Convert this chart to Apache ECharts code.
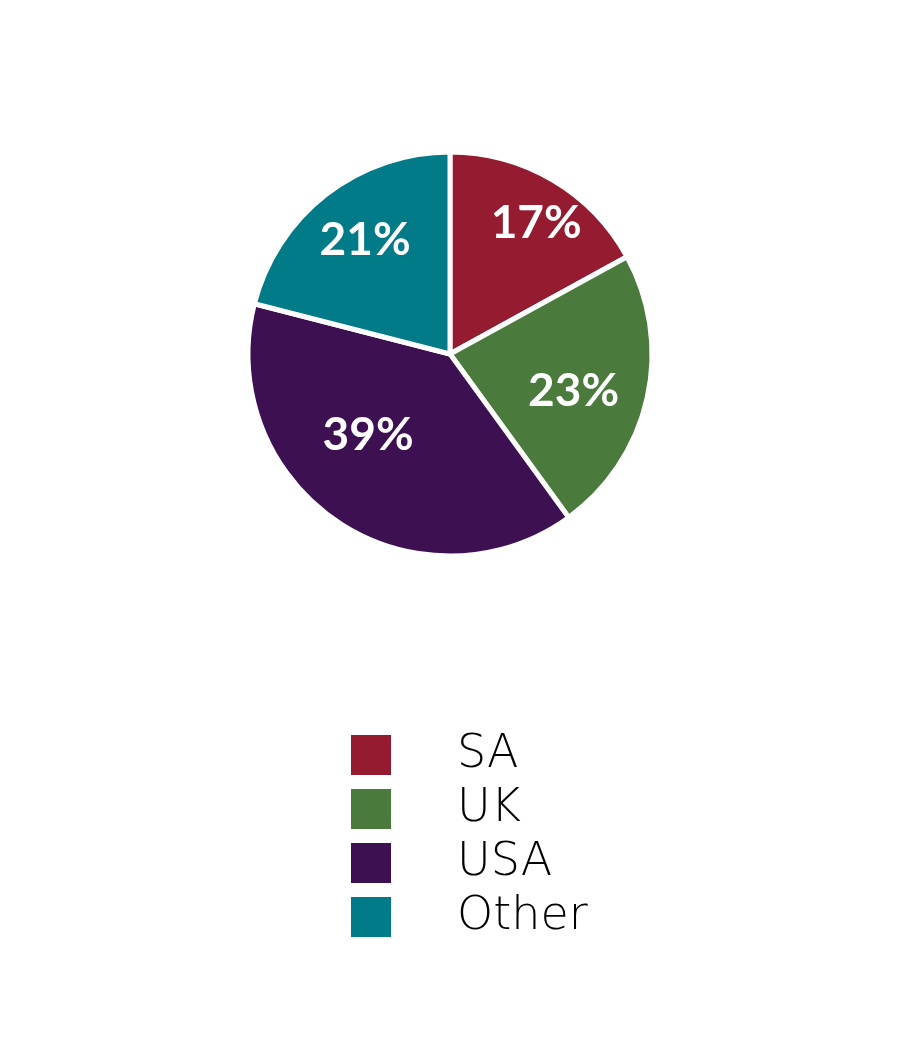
<!DOCTYPE html>
<html>
<head>
<meta charset="utf-8">
<script src="https://cdn.jsdelivr.net/npm/echarts@6/dist/echarts.min.js"></script>
<style>html,body{margin:0;padding:0;background:#fff;}#c{width:900px;height:1062px;}</style>
</head>
<body>
<div id="c"></div>
<script>
const categories = ['SA', 'UK', 'USA', 'Other'];
const values = [17, 23, 39, 21];
const colors = ['#951b31', '#4b7a3d', '#3d1151', '#017b87'];
// label placement (layout only): distance from centre in px, angular nudge in degrees
const labelRadius = [157, 129, 115, 142];
const labelAngleNudge = [-2.7, -4, -11.2, -1.1];

const chart = echarts.init(document.getElementById('c'), null, {renderer: 'canvas'});
const cx = 450, cy = 354, R = 202, startAngle = 90;
const total = values.reduce((a, b) => a + b, 0);
chart.setOption({
  backgroundColor: '#ffffff',
  animation: false,
  legend: {
    orient: 'vertical',
    left: 344,
    top: 727,
    itemWidth: 42,
    itemHeight: 42,
    itemGap: 8,
    icon: 'rect',
    data: categories,
    textStyle: {
      fontFamily: 'DejaVu Sans',
      fontWeight: 200,
      fontSize: 46,
      color: '#000',
      padding: [0, 0, 0, 60]
    }
  },
  series: [{
    type: 'pie',
    center: [cx, cy],
    radius: [0, R],
    startAngle: startAngle,
    clockwise: true,
    data: categories.map((n, i) => ({name: n, value: values[i], itemStyle: {color: colors[i]}})),
    itemStyle: {borderColor: '#fff', borderWidth: 5},
    label: {
      show: true,
      position: 'inside',
      formatter: '{c}%',
      color: '#fff',
      fontFamily: 'Lato',
      fontWeight: 'bold',
      fontSize: 46
    },
    labelLayout: function (p) {
      const i = p.dataIndex;
      let before = 0;
      for (let j = 0; j < i; j++) before += values[j];
      const mid = startAngle - (before + values[i] / 2) / total * 360 + labelAngleNudge[i];
      const a = mid * Math.PI / 180;
      return {
        x: cx + labelRadius[i] * Math.cos(a),
        y: cy - labelRadius[i] * Math.sin(a),
        align: 'center',
        verticalAlign: 'middle'
      };
    },
    emphasis: {disabled: true}
  }]
});
</script>
</body>
</html>
